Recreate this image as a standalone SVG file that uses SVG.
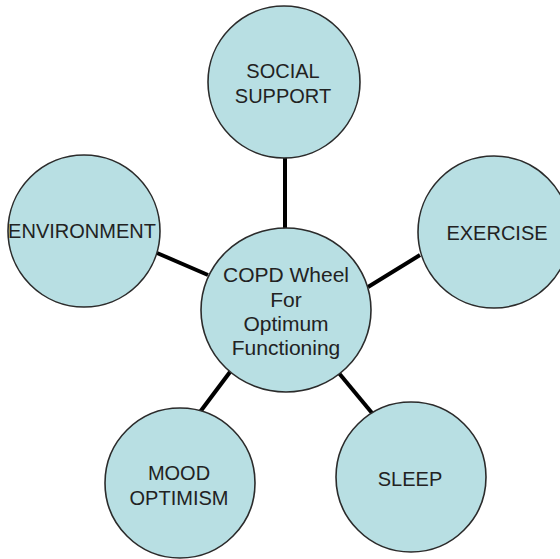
<svg xmlns="http://www.w3.org/2000/svg" width="560" height="559" viewBox="0 0 560 559">
  <style>
    .node { fill: #b8dfe3; stroke: #2b2b2b; stroke-width: 1.6; }
    .label { font-family: "Liberation Sans", Arial, sans-serif; font-size: 20px; fill: #222; text-anchor: middle; }
    .hub { font-size: 21px; }
    .link { stroke: #000; stroke-width: 4; stroke-linecap: butt; fill: none; }
  </style>
  <rect width="560" height="559" fill="#fff"/>

  <g id="connectors">
    <line class="link" x1="285" y1="157" x2="285" y2="229"/>
    <line class="link" x1="157" y1="253" x2="208" y2="275"/>
    <line class="link" x1="420" y1="255" x2="368" y2="287"/>
    <line class="link" x1="230" y1="372" x2="200" y2="412"/>
    <line class="link" x1="338" y1="372" x2="372" y2="413"/>
  </g>

  <g id="social-support">
    <circle class="node" cx="284" cy="82" r="76"/>
    <text class="label" x="283" y="78">SOCIAL</text>
    <text class="label" x="283" y="103">SUPPORT</text>
  </g>

  <g id="environment">
    <circle class="node" cx="84" cy="231" r="76"/>
    <text class="label" x="82" y="238">ENVIRONMENT</text>
  </g>

  <g id="exercise">
    <circle class="node" cx="494" cy="232" r="76"/>
    <text class="label" x="497" y="240">EXERCISE</text>
  </g>

  <g id="mood-optimism">
    <circle class="node" cx="180" cy="483" r="75"/>
    <text class="label" x="179" y="480">MOOD</text>
    <text class="label" x="179" y="505">OPTIMISM</text>
  </g>

  <g id="sleep">
    <circle class="node" cx="411" cy="477" r="75"/>
    <text class="label" x="410" y="486">SLEEP</text>
  </g>

  <g id="copd-wheel">
    <ellipse class="node" cx="286" cy="310" rx="85" ry="82"/>
    <text class="label hub" x="286" y="282">COPD Wheel</text>
    <text class="label hub" x="286" y="307">For</text>
    <text class="label hub" x="286" y="331">Optimum</text>
    <text class="label hub" x="286" y="355">Functioning</text>
  </g>
</svg>
